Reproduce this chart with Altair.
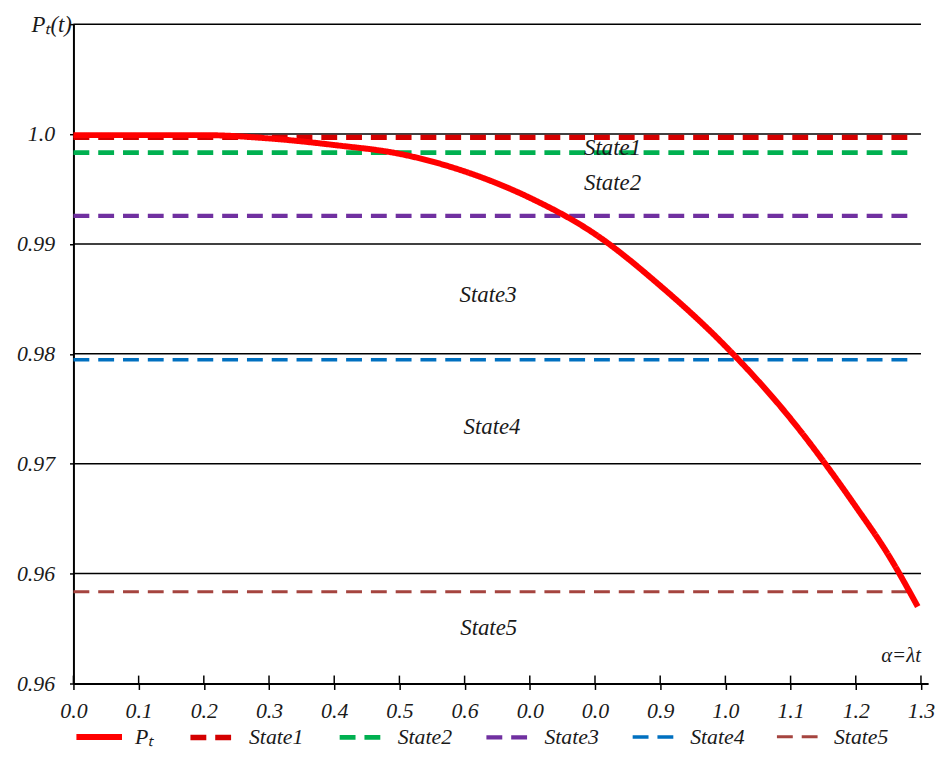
import json
import altair as alt
import pandas as pd

FONT = "Liberation Serif, Times New Roman, serif"

# ---- data ----
x_ticks = [0.0, 0.1, 0.2, 0.3, 0.4, 0.5, 0.6, 0.7, 0.8, 0.9, 1.0, 1.1, 1.2, 1.3]
x_tick_labels = ["0.0", "0.1", "0.2", "0.3", "0.4", "0.5", "0.6", "0.0", "0.0",
                 "0.9", "1.0", "1.1", "1.2", "1.3"]
y_ticks = [0.95, 0.96, 0.97, 0.98, 0.99, 1.0, 1.01]
y_tick_labels = ["0.96", "0.96", "0.97", "0.98", "0.99", "1.0", ""]
grid_values = [0.96, 0.97, 0.98, 0.99, 1.0, 1.01]

pt_x = [0.0, 0.1, 0.2, 0.3, 0.4, 0.5, 0.6, 0.7, 0.8, 0.9, 1.0, 1.1, 1.2, 1.25, 1.295]
pt_y = [0.9999, 0.9999, 0.9999, 0.9996, 0.9990, 0.9982, 0.9966, 0.9942, 0.9909,
        0.9862, 0.9807, 0.9741, 0.9661, 0.9617, 0.9570]

series_names = ["Pₜ", "State1", "State2", "State3", "State4", "State5"]
series_colors = ["#ff0000", "#d40000", "#00b050", "#7030a0", "#0070c0", "#a5443f"]
series_dash = [[1, 0], [16, 9], [16, 9], [16, 9], [16, 9], [16, 9]]
series_width = [6, 3, 3, 3, 3, 3]

state_names = ["State1", "State2", "State3", "State4", "State5"]
state_levels = [0.9997, 0.9983, 0.99255, 0.97946, 0.95834]
state_line_end = 1.291

label_texts = ["State1", "State2", "State3", "State4", "State5"]
label_x = [0.827, 0.827, 0.636, 0.642, 0.637]
label_y = [0.99876, 0.9955, 0.98539, 0.97336, 0.95503]

x_domain = [0.0, 1.311]
y_domain = [0.95, 1.01]

# ---- tables ----
pt_df = pd.DataFrame({"x": pt_x, "y": pt_y, "series": series_names[0]})
state_df = pd.DataFrame({"series": state_names, "y": state_levels})
grid_df = pd.DataFrame({"y": grid_values})
label_df = pd.DataFrame({"text": label_texts, "x": label_x, "y": label_y})
alpha_df = pd.DataFrame({"text": ["α=λt"], "x": [1.3], "y": [0.95248]})
xtick_df = pd.DataFrame({"x": x_ticks})

xscale = alt.Scale(domain=x_domain, nice=False, zero=False)
yscale = alt.Scale(domain=y_domain, nice=False, zero=False)

x_axis = alt.Axis(
    values=x_ticks,
    labelExpr=f"{json.dumps(x_tick_labels)}[round(datum.value*10)]",
    grid=False, domainColor="black", domainWidth=2, tickColor="black",
    tickWidth=1.5, tickSize=6, labelPadding=11, labelFont=FONT,
    labelFontSize=22, labelFontStyle="italic", labelColor="#1a1a1a",
    title=None, labelOverlap=False, labelFlush=False,
)
y_axis = alt.Axis(
    values=y_ticks,
    labelExpr=f"{json.dumps(y_tick_labels)}[round(datum.value*100)-95]",
    grid=False, domainColor="black", domainWidth=2, tickColor="black",
    tickWidth=1.5, tickSize=4, labelPadding=15, labelFont=FONT,
    labelFontSize=22, labelFontStyle="italic", labelColor="#1a1a1a",
    labelOverlap=False, labelFlush=False,
    title="Pₜ(t)", titleAngle=0, titleAlign="right", titleBaseline="middle",
    titleX=-2, titleY=0, titleFont=FONT, titleFontSize=23,
    titleFontStyle="italic", titleFontWeight="normal", titleColor="#1a1a1a",
)

color_enc = alt.Color("series:N", scale=alt.Scale(domain=series_names, range=series_colors), title=None)
dash_enc = alt.StrokeDash("series:N", scale=alt.Scale(domain=series_names, range=series_dash), title=None)
width_enc = alt.StrokeWidth("series:N", scale=alt.Scale(domain=series_names, range=series_width), title=None)

grid = alt.Chart(grid_df).mark_rule(color="black", strokeWidth=1.5).encode(
    y=alt.Y("y:Q", scale=yscale, axis=y_axis),
    x=alt.X(datum=0.0, scale=xscale, axis=x_axis),
    x2=alt.datum(1.3),
)

states = alt.Chart(state_df).mark_rule().encode(
    y=alt.Y("y:Q", scale=yscale),
    x=alt.X(datum=0.0, scale=xscale),
    x2=alt.datum(state_line_end),
    color=color_enc, strokeDash=dash_enc, strokeWidth=width_enc,
)

curve = alt.Chart(pt_df).mark_line(interpolate="monotone", strokeCap="butt").encode(
    x=alt.X("x:Q", scale=xscale),
    y=alt.Y("y:Q", scale=yscale),
    color=color_enc, strokeDash=dash_enc, strokeWidth=width_enc,
)

labels = alt.Chart(label_df).mark_text(
    font=FONT, fontSize=23, fontStyle="italic", color="#1a1a1a", baseline="middle"
).encode(x=alt.X("x:Q", scale=xscale), y=alt.Y("y:Q", scale=yscale), text="text:N")

alpha = alt.Chart(alpha_df).mark_text(
    font=FONT, fontSize=21, fontStyle="italic", color="#1a1a1a", align="right", baseline="middle"
).encode(x=alt.X("x:Q", scale=xscale), y=alt.Y("y:Q", scale=yscale), text="text:N")

up_ticks = alt.Chart(xtick_df).mark_rule(color="black", strokeWidth=1.5).encode(
    x=alt.X("x:Q", scale=xscale),
    y=alt.Y(datum=0.95, scale=yscale),
    y2=alt.datum(0.95072),
)

chart = alt.layer(grid, states, curve, labels, alpha, up_ticks).properties(
    width=862, height=665,
    autosize=alt.AutoSizeParams(type="none"),
    padding={"left": 66, "top": 13, "right": 16, "bottom": 90},
).configure_view(stroke=None).configure_legend(
    orient="none", legendX=0, legendY=693, direction="horizontal",
    symbolType="stroke", symbolSize=2116, labelFont=FONT, labelFontSize=22,
    labelFontStyle="italic", labelColor="#1a1a1a", labelOffset=10,
    columnPadding=26, gridAlign="each", padding=0,
)

chart.save("out.html", embed_options={"renderer": "svg", "actions": False})
